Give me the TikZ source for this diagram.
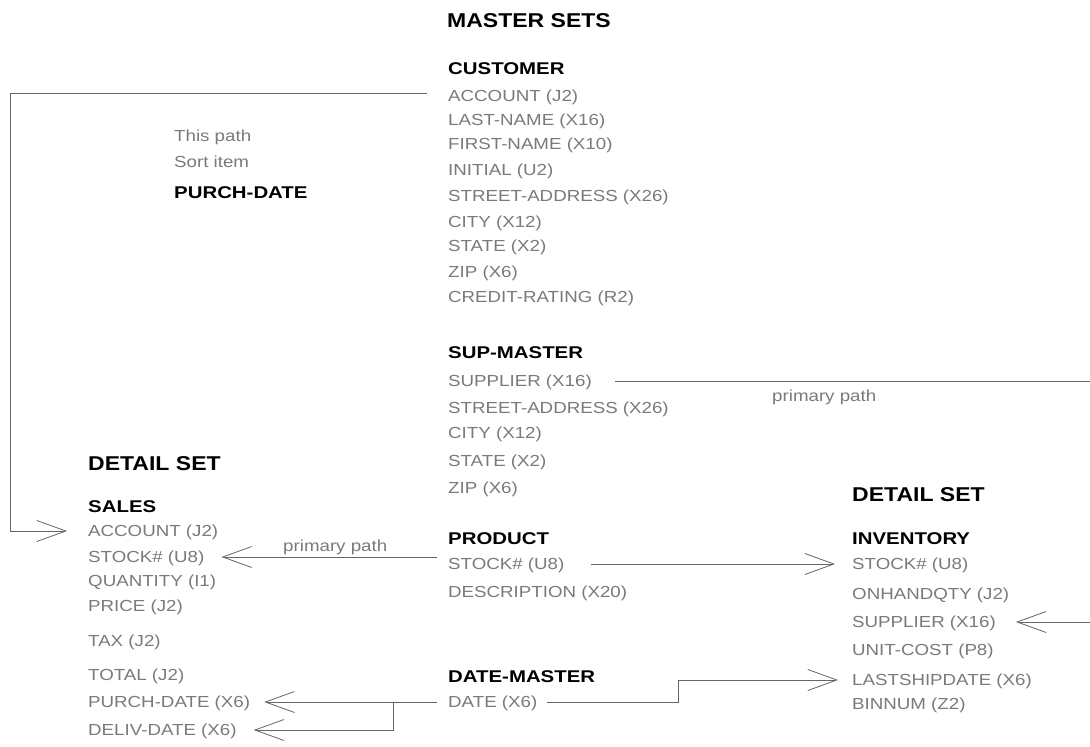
\documentclass[tikz,border=0pt]{standalone}
\usepackage{fontspec}
\setmainfont{Liberation Sans}
\newfontfamily\fieldfont[FakeStretch=1.17]{Liberation Sans}
\newfontfamily\setfont[FakeStretch=1.2]{Liberation Sans}
\newfontfamily\headfont[FakeStretch=1.15]{Liberation Sans}
\usetikzlibrary{arrows.meta}
\tikzset{
  fld/.style={anchor=west, inner sep=0pt, text height=11.5pt, text depth=0pt,
    text=black!52, font=\fieldfont\fontsize{16}{18}\selectfont},
  setname/.style={anchor=west, inner sep=0pt, text height=12.2pt, text depth=0pt,
    font=\setfont\bfseries\fontsize{17}{19}\selectfont},
  sethead/.style={anchor=west, inner sep=0pt, text height=14.3pt, text depth=0pt,
    font=\headfont\bfseries\fontsize{20}{22}\selectfont},
  link/.style={draw=black!60, line width=0.8pt},
  openv/.tip={Straight Barb[length=29pt, width=21pt]}
}
\begin{document}
\begin{tikzpicture}[x=1pt, y=-1pt]
  \clip (0,0) rectangle (1090,747);
  \fill[white] (0,0) rectangle (1090,747);
  \node[sethead] (master) at (447,20) {MASTER SETS};
  \node[setname] (cust) at (448,68) {CUSTOMER};
  \foreach \y/\t [count=\i] in {96/ACCOUNT (J2), 120/LAST-NAME (X16), 144/FIRST-NAME (X10),
      170/INITIAL (U2), 196/STREET-ADDRESS (X26), 222/CITY (X12), 246/STATE (X2),
      272/ZIP (X6), 297/CREDIT-RATING (R2)}
    \node[fld] (cust-\i) at (448,\y) {\t};
  \node[setname] (sup) at (448,352) {SUP-MASTER};
  \foreach \y/\t [count=\i] in {381/SUPPLIER (X16), 408/STREET-ADDRESS (X26), 433/CITY (X12),
      461/STATE (X2), 488/ZIP (X6)}
    \node[fld] (sup-\i) at (448,\y) {\t};
  \node[setname] (prd) at (448,538) {PRODUCT};
  \foreach \y/\t [count=\i] in {564/STOCK\# (U8), 592/DESCRIPTION (X20)}
    \node[fld] (prd-\i) at (448,\y) {\t};
  \node[setname] (dm) at (448,676) {DATE-MASTER};
  \node[fld] (dm-1) at (448,702) {DATE (X6)};

  \node[fld] (note-1) at (174,136) {This path};
  \node[fld] (note-2) at (174,162) {Sort item};
  \node[setname] (note-3) at (174,192) {PURCH-DATE};

  \node[sethead] (detl) at (88,463) {DETAIL SET};
  \node[setname] (sal) at (88,506) {SALES};
  \foreach \y/\t [count=\i] in {531/ACCOUNT (J2), 557/STOCK\# (U8), 581/QUANTITY (I1),
      606/PRICE (J2), 641/TAX (J2), 675/TOTAL (J2), 702/PURCH-DATE (X6), 730/DELIV-DATE (X6)}
    \node[fld] (sal-\i) at (88,\y) {\t};

  \node[sethead] (detr) at (852,494) {DETAIL SET};
  \node[setname] (inv) at (852,538) {INVENTORY};
  \foreach \y/\t [count=\i] in {564/STOCK\# (U8), 594/ONHANDQTY (J2), 622/SUPPLIER (X16),
      650/UNIT-COST (P8), 680/LASTSHIPDATE (X6), 704/BINNUM (Z2)}
    \node[fld] (inv-\i) at (852,\y) {\t};

  \node[fld] (pp-1) at (283,546) {primary path};
  \node[fld] (pp-2) at (772,396) {primary path};

  \coordinate (edge) at (1100,0);
  \coordinate (split) at (393,702);
  \coordinate (jogx) at (678,0);
  \draw[link, -openv] ([xshift=-21pt,yshift=3pt]cust-1.west) -| ([xshift=-78pt]sal-1.west)
    -- ([xshift=-21pt]sal-1.west);
  \draw[link, -openv] ([xshift=-11pt]prd-1.west |- sal-2.east) -- ([xshift=17pt]sal-2.east);
  \draw[link, -openv] ([xshift=26pt]prd-1.east) -- ([xshift=-17pt]inv-1.west);
  \draw[link, -openv] ([xshift=23pt]sup-1.east) -- (edge |- sup-1.east) -- (edge |- inv-3.east)
    -- ([xshift=20pt]inv-3.east);
  \draw[link, -openv] ([xshift=-11pt]dm-1.west) -- ([xshift=14pt]sal-7.east);
  \draw[link, -openv] (split) |- ([xshift=17pt]sal-8.east);
  \draw[link, -openv] ([xshift=9pt]dm-1.east) -| (jogx |- inv-5.west) -- ([xshift=-14pt]inv-5.west);
\end{tikzpicture}
\end{document}
